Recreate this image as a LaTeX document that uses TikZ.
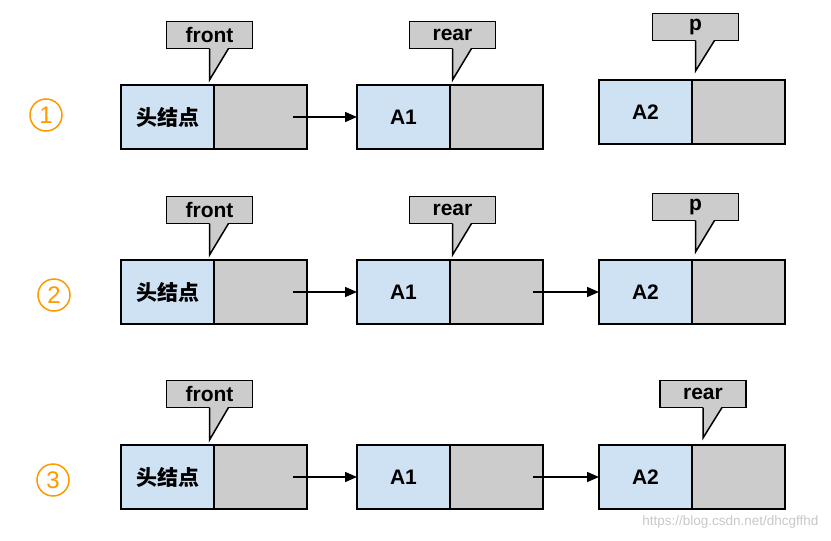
\documentclass[tikz,border=0pt]{standalone}
\usepackage{fontspec}
\setmainfont{Liberation Sans}
\newfontfamily\cjkfont{Noto Sans CJK SC}
\usetikzlibrary{arrows.meta}
\definecolor{cellblue}{HTML}{CFE2F3}
\definecolor{cellgray}{HTML}{CCCCCC}
\definecolor{numorange}{HTML}{FF9900}
\definecolor{wmgray}{HTML}{C8C8C8}
\tikzset{
  datacell/.style={draw=black, line width=1.6pt, fill=cellblue, minimum width=93pt, minimum height=64pt, inner sep=0pt, outer sep=0pt, font=\fontsize{21}{21}\selectfont\bfseries, anchor=north west},
  nextcell/.style={draw=black, line width=1.6pt, fill=cellgray, minimum width=93pt, minimum height=64pt, inner sep=0pt, outer sep=0pt, anchor=north west},
  calloutbox/.style={draw=black, line width=1.5pt, fill=cellgray, minimum width=86pt, minimum height=27pt, inner sep=0pt, outer sep=0pt, font=\fontsize{21}{21}\selectfont\bfseries},
  link/.style={line width=1.5pt, -{Triangle[length=12pt,width=10pt]}},
  stepnum/.style={circle, draw=numorange, line width=1.5pt, minimum size=32pt, inner sep=0pt, text=numorange, font=\fontsize{24}{24}\selectfont},
}
\newcommand{\mktail}[2]{% #1 callout node, #2 tip y
  \fill[cellgray] ([xshift=0pt,yshift=1.2pt]#1.south) -- ([xshift=19pt,yshift=1.2pt]#1.south) -- (#1.south |- 0,#2) -- cycle;
  \draw[line width=1.5pt, line join=miter] ([xshift=19pt]#1.south) -- (#1.south |- 0,#2) -- (#1.south);
}
\begin{document}
\begin{tikzpicture}[x=1pt,y=-1pt]
\useasboundingbox (0,0) rectangle (831,541);
% ---------- row 1 ----------
\node[stepnum] (n1) at (46,115) {1};
\node[datacell] (h1) at (121,85) {\cjkfont\bfseries 头结点};
\node[nextcell] (h1n) at (h1.north east) {};
\node[datacell] (a11) at (357,85) {A1};
\node[nextcell] (a11n) at (a11.north east) {};
\node[datacell] (a21) at (599,80) {A2};
\node[nextcell] (a21n) at (a21.north east) {};
\coordinate (h1p) at ([xshift=-14pt]h1n.east);
\draw[link] (h1p) -- (a11.west);
\node[calloutbox] (f1) at (209.5,35) {front};
\mktail{f1}{80}
\node[calloutbox] (r1) at (452.5,35) {rear};
\mktail{r1}{80}
\node[calloutbox] (p1) at (695.5,27) {p};
\mktail{p1}{71}
% ---------- row 2 ----------
\node[stepnum] (n2) at (54,295) {2};
\node[datacell] (h2) at (121,260) {\cjkfont\bfseries 头结点};
\node[nextcell] (h2n) at (h2.north east) {};
\node[datacell] (a12) at (357,260) {A1};
\node[nextcell] (a12n) at (a12.north east) {};
\node[datacell] (a22) at (599,260) {A2};
\node[nextcell] (a22n) at (a22.north east) {};
\coordinate (h2p) at ([xshift=-14pt]h2n.east);
\coordinate (a12p) at ([xshift=-10pt]a12n.east);
\draw[link] (h2p) -- (a12.west);
\draw[link] (a12p) -- (a22.west);
\node[calloutbox] (f2) at (209.5,210) {front};
\mktail{f2}{255}
\node[calloutbox] (r2) at (452.5,210) {rear};
\mktail{r2}{255}
\node[calloutbox] (p2) at (695.5,207) {p};
\mktail{p2}{252}
% ---------- row 3 ----------
\node[stepnum] (n3) at (53,480) {3};
\node[datacell] (h3) at (121,445) {\cjkfont\bfseries 头结点};
\node[nextcell] (h3n) at (h3.north east) {};
\node[datacell] (a13) at (357,445) {A1};
\node[nextcell] (a13n) at (a13.north east) {};
\node[datacell] (a23) at (599,445) {A2};
\node[nextcell] (a23n) at (a23.north east) {};
\coordinate (h3p) at ([xshift=-14pt]h3n.east);
\coordinate (a13p) at ([xshift=-10pt]a13n.east);
\draw[link] (h3p) -- (a13.west);
\draw[link] (a13p) -- (a23.west);
\node[calloutbox] (f3) at (209.5,394) {front};
\mktail{f3}{440}
\node[calloutbox] (r3) at (703,394) {rear};
\mktail{r3}{438}
% watermark
\node[text=wmgray, font=\fontsize{13.5}{13.5}\selectfont, anchor=east] (wm) at (822,522) {https://blog.csdn.net/dhcgffhd};
\end{tikzpicture}
\end{document}
